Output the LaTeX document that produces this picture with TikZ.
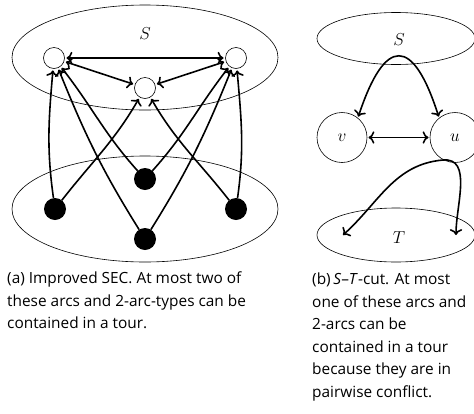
\documentclass[tikz,border=0pt]{standalone}
\usepackage{fontspec}
\setmainfont{Open Sans}
\usetikzlibrary{shapes.geometric, arrows.meta}
\tikzset{
  region/.style={ellipse, draw, line width=0.6pt, inner sep=0pt},
  vtx/.style={circle, draw, fill=white, line width=0.6pt, inner sep=0pt, minimum size=21pt, outer sep=2pt},
  dot/.style={circle, fill=black, inner sep=0pt, minimum size=22pt, outer sep=0pt},
  bigvtx/.style={circle, draw, line width=0.6pt, inner sep=0pt, minimum size=50pt, outer sep=1.5pt, font=\fontsize{19}{22}\selectfont},
  arc/.style={line width=1.6pt, -{To[scale=1.15]}},
  darc/.style={line width=1.6pt, {To[scale=1.15]}-{To[scale=1.15]}},
  setlabel/.style={inner sep=0pt, font=\fontsize{19}{22}\selectfont},
  caption/.style={anchor=north west, align=left, inner sep=0pt, font=\fontsize{15.4}{22.5}\selectfont}
}
\begin{document}
\begin{tikzpicture}[x=1pt, y=-1pt]
\useasboundingbox (0,0) rectangle (474,413);

% ---------- (a) improved SEC ----------
\node[region, minimum width=266pt, minimum height=105pt] (Sa) at (145,57.5) {};
\node[region, minimum width=266pt, minimum height=106pt] (Ta) at (145,209) {};
\node[setlabel] (Sla) at (145,34) {$S$};

\node[vtx] (wL) at (54,58) {};
\node[vtx] (wR) at (236,58) {};
\node[vtx] (wM) at (145,88) {};

\node[dot] (dL) at (55,209) {};
\node[dot] (dR) at (236,209) {};
\node[dot] (dT) at (145,179) {};
\node[dot] (dB) at (145,239) {};

\draw[darc] (wL) -- (wR);
\draw[darc] (wL) -- (wM);
\draw[darc] (wR) -- (wM);

\draw[arc] (dL) to[out=98,in=-95] (wL);
\draw[arc] (dR) to[out=82,in=-85] (wR);
\draw[arc] (dL) to[out=52,in=-120] (wM);
\draw[arc] (dR) to[out=128,in=-60] (wM);
\draw[arc] (dT) to[out=132,in=-52] (wL);
\draw[arc] (dT) to[out=48,in=-128] (wR);
\draw[arc] (dB) to[out=122,in=-68] (wL);
\draw[arc] (dB) to[out=58,in=-112] (wR);

\node[caption] (capa) at (7,272) {(a) Improved SEC. At most two of\\these arcs and 2-arc-types can be\\contained in a tour.};

% ---------- (b) S-T-cut ----------
\node[region, minimum width=158pt, minimum height=52pt] (Sb) at (396,38.5) {};
\node[setlabel] (Slb) at (399,40) {$S$};
\node[region, minimum width=158pt, minimum height=54pt] (Tb) at (396,235) {};
\node[setlabel] (Tlb) at (399,238) {$T$};

\node[bigvtx] (v) at (342,137.5) {$v$};
\node[bigvtx] (u) at (455,137.5) {$u$};

\draw[darc] (v) -- (u);
\draw[darc] (v.52) .. controls (385,36) and (413,36) .. (u.128);

\coordinate (tl) at (343,235);
\coordinate (tr) at (456,235);
\coordinate (hk) at (443,160);
\draw[darc] (tl) to[out=42,in=185] (hk) to[out=5,in=90] (tr);

\node[caption] (capb) at (312,273) {(b)\,\textit{S}–\textit{T}-cut. At most\\one of these arcs and\\2-arcs can be\\contained in a tour\\because they are in\\pairwise conflict.};
\end{tikzpicture}
\end{document}
